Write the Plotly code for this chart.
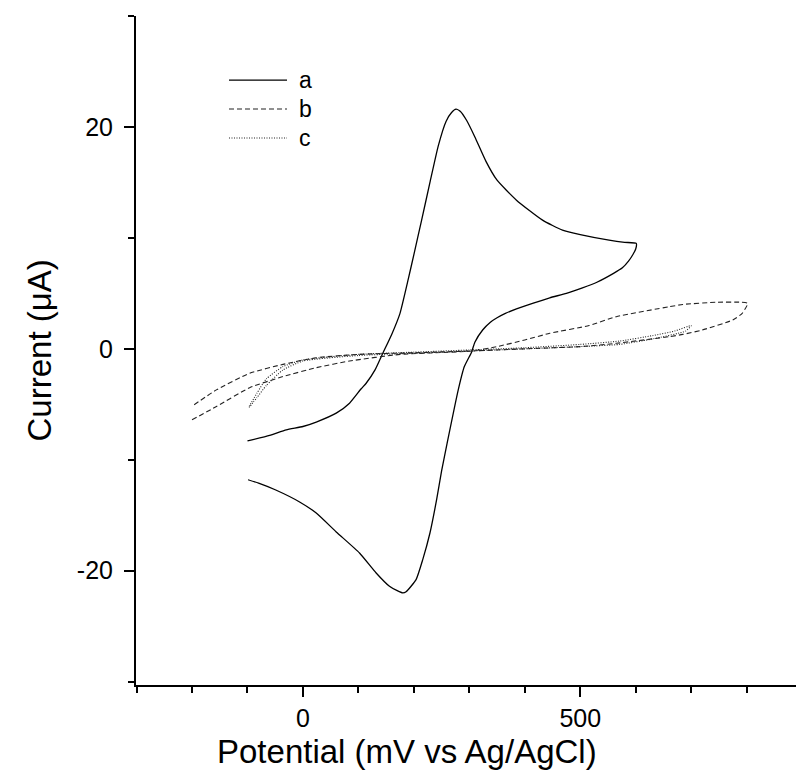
import plotly.graph_objects as go

# ---- data (potential in mV vs Ag/AgCl, current in µA) ----
series_names = ["a", "b", "c"]

a_potential = [-100, -60, -30, 0, 24, 60, 84, 105, 114, 130, 144, 160, 175, 190, 200, 214, 229, 244,
               258, 268, 276, 284, 295, 310, 330, 350, 385, 432, 468, 500, 552, 580, 601,
               600, 595, 587, 576, 560, 530, 504, 475, 445, 414, 385, 365, 350, 338, 324, 310, 304, 291, 280,
               260, 250, 241, 229, 216, 204, 186, 180, 170, 156, 132, 102, 60, 24, -6, -50, -80, -99]
a_current = [-8.3, -7.8, -7.3, -7.0, -6.6, -5.8, -4.9, -3.6, -3.1, -1.9, -0.4, 1.3, 3.2, 6.3, 8.5, 11.6, 15.0, 18.3,
             20.5, 21.3, 21.6, 21.4, 20.6, 19.1, 16.9, 15.2, 13.4, 11.6, 10.7, 10.3, 9.8, 9.6, 9.5,
             9.0, 8.5, 7.9, 7.3, 6.8, 6.0, 5.5, 5.0, 4.6, 4.1, 3.6, 3.2, 2.8, 2.4, 1.7, 0.6, -0.3, -1.6, -3.7,
             -8.5, -11.0, -13.6, -16.6, -19.0, -20.8, -21.9, -22.0, -21.8, -21.4, -20.2, -18.4, -16.5, -14.8, -13.8, -12.7, -12.1, -11.8]

b_potential = [-200, -156, -96, -36, 24, 84, 175, 304, 350, 400, 445, 516, 565, 661, 685, 745, 790, 802,
               792, 775, 720, 685, 661, 565, 500, 400, 300, 200, 100, 24, -36, -96, -156, -198]
b_current = [-6.4, -5.2, -3.5, -2.5, -1.7, -1.1, -0.5, -0.2, 0.2, 0.8, 1.4, 2.1, 2.9, 3.8, 4.0, 4.2, 4.2, 4.1,
             3.2, 2.6, 1.7, 1.3, 1.1, 0.5, 0.2, -0.0, -0.2, -0.35, -0.5, -0.8, -1.4, -2.2, -3.7, -5.1]

c_potential = [-97, -83, -66, -36, 0, 100, 200, 300, 400, 500, 571, 631, 670, 700,
               690, 631, 571, 500, 400, 300, 200, 100, 0, -36, -66, -83, -97]
c_current = [-5.2, -4.0, -2.7, -1.6, -1.0, -0.5, -0.3, -0.1, 0.1, 0.4, 0.7, 1.2, 1.6, 2.1,
             1.6, 0.9, 0.4, 0.2, 0.0, -0.2, -0.4, -0.6, -1.1, -1.9, -3.3, -4.4, -5.3]

x_tick_vals = [0, 500]
x_tick_text = ["0", "500"]
y_tick_vals = [-20, 0, 20]
y_tick_text = ["-20", "0", "20"]

x_title = "Potential (mV vs Ag/AgCl)"
y_title = "Current (μA)"

FONT = "Arial, Liberation Sans, sans-serif"
styles = [
    dict(color="black", width=1.3, dash="solid"),
    dict(color="#222222", width=1.1, dash="5px,3px"),
    dict(color="#222222", width=1.1, dash="1px,1.5px"),
]
data = [(a_potential, a_current), (b_potential, b_current), (c_potential, c_current)]

fig = go.Figure()
for name, (xs, ys), st in zip(series_names, data, styles):
    fig.add_trace(go.Scatter(x=xs, y=ys, mode="lines", name=name,
                             line=dict(color=st["color"], width=st["width"], dash=st["dash"],
                                       shape="spline", smoothing=0.5),
                             showlegend=False))

# manual legend (long line samples like the original)
leg_y = [0.904, 0.861, 0.8176]
for name, st, yy in zip(series_names, styles, leg_y):
    fig.add_shape(type="line", xref="paper", yref="paper", x0=0.1409, x1=0.2288, y0=yy, y1=yy,
                  line=dict(color=st["color"], width=st["width"], dash=st["dash"]))
    fig.add_annotation(xref="paper", yref="paper", x=0.2439, y=yy, text=name, showarrow=False,
                       xanchor="left", yanchor="middle", font=dict(family=FONT, size=23, color="black"))

# axis titles
fig.add_annotation(xref="paper", yref="paper", x=0.41, y=-0.1, text=x_title, showarrow=False,
                   xanchor="center", yanchor="middle", font=dict(family=FONT, size=33, color="black"))
fig.add_annotation(xref="paper", yref="paper", x=-0.1455, y=0.5, text=y_title, showarrow=False,
                   textangle=-90, xanchor="center", yanchor="middle",
                   font=dict(family=FONT, size=33, color="black"))

axis_common = dict(showline=True, linecolor="black", linewidth=2, showgrid=False, zeroline=False,
                   ticks="outside", tickcolor="black", tickwidth=2, ticklen=10,
                   tickfont=dict(family=FONT, size=25, color="black"))

fig.update_xaxes(range=[-301, 889], tickvals=x_tick_vals, ticktext=x_tick_text,
                 minor=dict(dtick=100, tick0=0, ticks="outside", ticklen=6, tickwidth=2, tickcolor="black"),
                 **axis_common)
fig.update_yaxes(range=[-30.3, 30], tickvals=y_tick_vals, ticktext=y_tick_text,
                 minor=dict(dtick=10, tick0=0, ticks="outside", ticklen=6, tickwidth=2, tickcolor="black"),
                 ticklabelstandoff=6,
                 **axis_common)

fig.update_layout(width=796, height=779, margin=dict(l=136, r=0, t=16, b=94),
                  plot_bgcolor="white", paper_bgcolor="white", showlegend=False)

fig.write_html("out.html")
